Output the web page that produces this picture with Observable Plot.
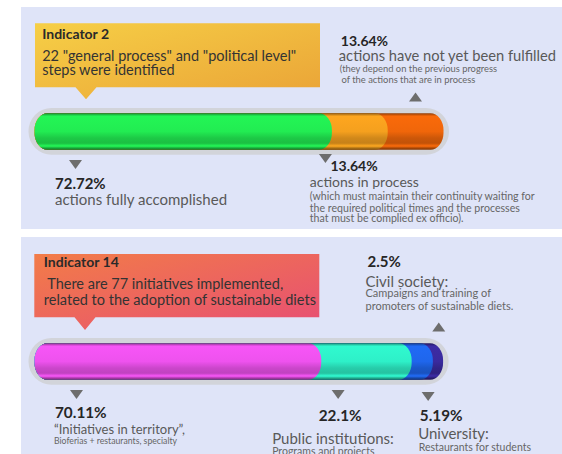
<!DOCTYPE html>
<html><head><meta charset="utf-8">
<script src="https://cdn.jsdelivr.net/npm/d3@7"></script>
<script src="https://cdn.jsdelivr.net/npm/@observablehq/plot@0.6"></script>
<style>
html,body{margin:0;padding:0;background:#fff;}
body{width:562px;height:454px;overflow:hidden;font-family:Lato,sans-serif;}
svg{display:block;}
</style></head><body><div id="chart"></div>
<script>
// ---- Indicator 2 ----
const ind2Title = "Indicator 2";
const ind2Subtitle = ['22 "general process" and "political level"', "steps were identified"];
const ind2Values = [72.72, 13.64, 13.64];
const ind2Pct = ["72.72%", "13.64%", "13.64%"];
const ind2Heads = ["actions fully accomplished", "actions in process", "actions have not yet been fulfilled"];
const ind2Notes = [
  [],
  ["(which must maintain their continuity waiting for", "the required political times and the processes", "that must be complied ex officio)."],
  ["(they depend on the previous progress", "of the actions that are in process"]
];
const ind2Colors = ["#22ec52", "#f5a01e", "#f0660a"];

// ---- Indicator 14 ----
const ind14Title = "Indicator 14";
const ind14Subtitle = ["There are 77 initiatives implemented,", "related to the adoption of sustainable diets"];
const ind14Values = [70.11, 22.1, 5.19, 2.5];
const ind14Pct = ["70.11%", "22.1%", "5.19%", "2.5%"];
const ind14Heads = ["\u201CInitiatives in territory\u201D,", "Public institutions:", "University:", "Civil society:"];
const ind14Notes = [
  ["Bioferias + restaurants, specialty"],
  ["Programs and projects"],
  ["Restaurants for students"],
  ["Campaigns and training of", "promoters of sustainable diets."]
];
const ind14Colors = ["#ee52ee", "#2ef0c8", "#1f66ec", "#3a2a9e"];

// ---- layout (pixels / offsets) ----
const CENTER = 131.5;
const FONT = "Lato";
const down = {draw(c){c.moveTo(-6.5,-4.5);c.lineTo(6.5,-4.5);c.lineTo(0,4.5);c.closePath();}};
const up = {draw(c){c.moveTo(-6.5,4.5);c.lineTo(6.5,4.5);c.lineTo(0,-4.5);c.closePath();}};

const layout2 = [
  {tri:"down", triDx:40.5, triY:164, pctDx:20, pctBase:188.3, pctSize:15, headDx:20, headBase:204, headSize:15, noteDx:[], noteBase:[]},
  {tri:"down", triDx:-7, triY:158, pctDx:-2, pctBase:170.5, pctSize:14, headDx:-22.6, headBase:186.7, headSize:14, noteDx:[-22.6,-22.6,-22.6], noteBase:[199.3,211,221.7], noteSize:10.6},
  {tri:"up", triDx:27.3, triY:96.5, pctDx:-47.4, pctBase:45, pctSize:14, headDx:-49.4, headBase:60, headSize:14.7, noteDx:[-48.4,-46.7], noteBase:[71,82.3], noteSize:9.4}
];
const layout14 = [
  {tri:"down", triDx:41.5, triY:164, pctDx:20, pctBase:187.3, pctSize:15.3, headDx:19, headBase:203.3, headSize:13, noteDx:[19], noteBase:[213.3], noteSize:8.7},
  {tri:"down", triDx:16.4, triY:164, pctDx:-3, pctBase:190, pctSize:15.3, headDx:-49.6, headBase:213.3, headSize:15, noteDx:[-49.6], noteBase:[224], noteSize:10.5},
  {tri:"down", triDx:16, triY:166, pctDx:7.7, pctBase:190, pctSize:15.3, headDx:6, headBase:208.3, headSize:15, noteDx:[6.5], noteBase:[220.7], noteSize:10.5},
  {tri:"up", triDx:5.4, triY:96.5, pctDx:-65.9, pctBase:36.7, pctSize:15, headDx:-67.9, headBase:56.7, headSize:15, noteDx:[-67.9,-67.9], noteBase:[66.7,79], noteSize:11}
];

function txt(x, dx, base, text, size, weight, color) {
  return Plot.text([text], {
    x: () => x, text: d => d, dx, dy: base - CENTER,
    lineAnchor: "bottom", textAnchor: "start",
    fontSize: size, fontWeight: weight, fill: color, fontFamily: FONT
  });
}

function panel(cfg) {
  const {id, values, pct, heads, notes, colors, title, subtitle, layout, height, box} = cfg;
  let acc = 0;
  const segs = values.map((v, i) => {
    const s = {i, start: acc, end: acc + v, value: v};
    acc += v;
    return s;
  });
  const total = acc;
  const marks = [];
  // track behind the bar
  marks.push(Plot.rect([total], {x1: 0, x2: d => d, insetLeft: -6, insetRight: -5.5, insetTop: -5.3, insetBottom: -5, rx: 23, fill: "#d2d4da"}));
  // segments, drawn from the longest cumulative to the shortest
  segs.slice().reverse().forEach(s => {
    marks.push(Plot.rect([s], {x1: 0, x2: d => d.end, rx: 13, ry: 17, fill: `url(#${id}-g${s.i})`}));
  });
  // callout text
  marks.push(txt(0, box.titleDx, box.titleBase, title, 14, "bold", "#2a2a2a"));
  subtitle.forEach((t, k) => marks.push(txt(0, box.subDx[k], box.subBase[k], t, 14.5, "normal", "#333")));
  // labels
  segs.forEach((s, i) => {
    const L = layout[i];
    marks.push(Plot.dot([s], {x: d => d.start, dx: L.triDx, dy: L.triY - CENTER, symbol: L.tri === "up" ? up : down, fill: "#6d6d6d", stroke: "none"}));
    marks.push(txt(s.start, L.pctDx, L.pctBase, pct[i], L.pctSize, "bold", "#262626"));
    marks.push(txt(s.start, L.headDx, L.headBase, heads[i], L.headSize, "normal", "#595959"));
    notes[i].forEach((n, k) => marks.push(txt(s.start, L.noteDx[k], L.noteBase[k], n, L.noteSize, "normal", "#666")));
  });

  const svg = Plot.plot({
    width: 562, height,
    marginTop: 113.3, marginBottom: height - 149.7, marginLeft: 0, marginRight: 0,
    x: {domain: [0, 100], range: [34.5, 443.5], axis: null},
    marks
  });
  svg.style.background = "linear-gradient(#dfe4f8,#dfe4f8) 21px 7px / 541px " + (height - 7 - (cfg.bottomGap || 0)) + "px no-repeat";
  svg.style.fontFamily = FONT;
  svg.style.overflow = "hidden";

  const root = d3.select(svg);
  const defs = root.insert("defs", ":first-child");
  colors.forEach((c, i) => {
    const g = defs.append("linearGradient").attr("id", `${id}-g${i}`).attr("x1", 0).attr("y1", 0).attr("x2", 0).attr("y2", 1);
    const col = d3.color(c);
    const stops = [
      [0, col.darker(1.4)], [0.08, col.brighter(0.1)], [0.5, col], [0.68, col.darker(0.45)],
      [0.82, col.darker(0.6)], [0.9, col.brighter(0.15)], [0.96, col.darker(1.1)], [1, col.darker(1.6)]
    ];
    stops.forEach(([o, cc]) => g.append("stop").attr("offset", o).attr("stop-color", cc.formatHex()));
  });
  const bg = defs.append("linearGradient").attr("id", `${id}-box`).attr("x1", 0).attr("y1", 0).attr("x2", 1).attr("y2", 1);
  bg.append("stop").attr("offset", 0).attr("stop-color", box.c0);
  bg.append("stop").attr("offset", 1).attr("stop-color", box.c1);
  const b = box;
  root.insert("path", "defs + *")
    .attr("d", `M${b.x0},${b.top}H${b.x1}V${b.bottom}H${b.tip + 10.5}L${b.tip},${b.tipY}L${b.tip - 10.5},${b.bottom}H${b.x0}Z`)
    .attr("fill", `url(#${id}-box)`);
  return svg;
}

const chart = document.getElementById("chart");
chart.appendChild(panel({
  id: "p2", values: ind2Values, pct: ind2Pct, heads: ind2Heads, notes: ind2Notes, colors: ind2Colors,
  title: ind2Title, subtitle: ind2Subtitle, layout: layout2, height: 230, bottomGap: 1,
  box: {x0: 35, x1: 320, top: 23.3, bottom: 87.3, tip: 86, tipY: 99.3,
        titleDx: 7.2, titleBase: 38.3, subDx: [7.2, 7.2], subBase: [60, 74], c0: "#f6cf46", c1: "#eaa337"}
}));
chart.appendChild(panel({
  id: "p14", values: ind14Values, pct: ind14Pct, heads: ind14Heads, notes: ind14Notes, colors: ind14Colors,
  title: ind14Title, subtitle: ind14Subtitle, layout: layout14, height: 224,
  box: {x0: 34.3, x1: 319.3, top: 24, bottom: 87.3, tip: 85, tipY: 100,
        titleDx: 8.8, titleBase: 36, subDx: [12.2, 8.8], subBase: [58.3, 74], c0: "#f27c48", c1: "#e74e74"}
}));
</script></body></html>
